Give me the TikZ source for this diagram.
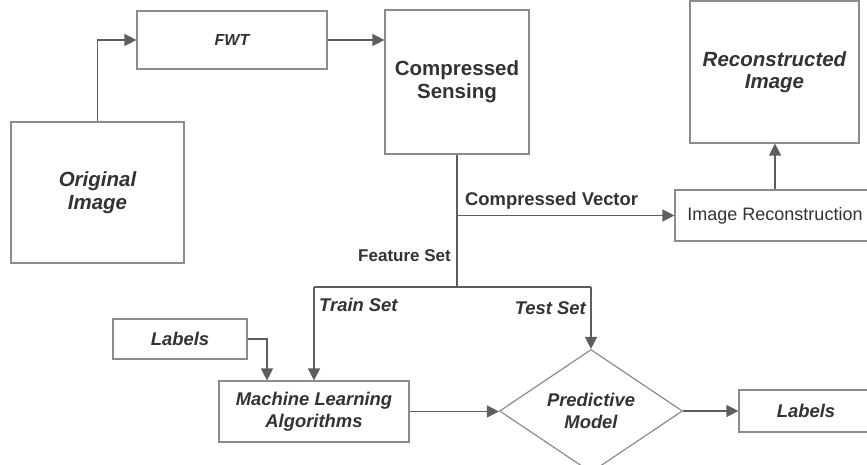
\documentclass[tikz,border=0pt]{standalone}
\usepackage{fontspec}
\setmainfont{Liberation Sans}
\usetikzlibrary{shapes.geometric,arrows.meta}
\definecolor{txt}{HTML}{333333}
\definecolor{conn}{HTML}{5E5E5E}
\definecolor{bord}{HTML}{8C8C8C}
\tikzset{
  box/.style={draw=bord,line width=1.2pt,rectangle,inner sep=0pt,align=center,text=txt},
  big/.style={font=\fontsize{20.5}{23}\selectfont\bfseries},
  mid/.style={font=\fontsize{18.4}{21.5}\selectfont\bfseries\itshape},
  arr/.style={draw=conn,line width=1.4pt,-{Triangle[length=12pt,width=12pt]}},
  ln/.style={draw=conn,line width=1.4pt},
  lbl/.style={inner sep=0pt,text=txt}
}
\begin{document}
\begin{tikzpicture}[x=1pt,y=-1pt]
\clip (0,0) rectangle (867,465);
\fill[white] (0,0) rectangle (867,465);
% boxes
\node[box,minimum width=173pt,minimum height=141pt,font=\fontsize{20.5}{23}\selectfont\bfseries\itshape] (orig) at (97.5,192.5) {Original\\Image};
\node[box,minimum width=190pt,minimum height=58pt,font=\fontsize{16}{18}\selectfont\bfseries\itshape] (fwt) at (232,40) {FWT};
\node[box,big,minimum width=144pt,minimum height=144pt] (cs) at (457,82) {Compressed\\Sensing};
\node[box,minimum width=169pt,minimum height=142pt,font=\fontsize{20.5}{22}\selectfont\bfseries\itshape] (rec) at (774.5,72) {Reconstructed\\Image};
\node[box,minimum width=200pt,minimum height=51pt,font=\fontsize{18}{21}\selectfont] (imgrec) at (775,215.5) {Image Reconstruction};
\node[box,mid,minimum width=134pt,minimum height=40pt] (lab1) at (180,339) {Labels};
\node[box,mid,minimum width=190pt,minimum height=61pt] (ml) at (314,411.5) {Machine Learning\\Algorithms};
\node[draw=bord,line width=1.2pt,diamond,inner sep=0pt,minimum width=183pt,minimum height=102pt,mid,text=txt,align=center] (diam) at (591,411) {Predictive\\Model};
\node[box,mid,minimum width=134pt,minimum height=42pt] (lab2) at (806,411) {Labels};
% coordinates
\coordinate (split) at (457,287);
\coordinate (cvpt) at (457,215.5);
% connectors
\draw[arr] (orig.north) |- (fwt.west);
\draw[arr] (fwt.east) -- (fwt.east -| cs.west);
\draw[ln] (cs.south) -- (split);
\draw[arr] (cvpt) -- (imgrec.west);
\draw[arr] (imgrec.north) -- (imgrec.north |- rec.south);
\draw[ln] (split) -- (split -| ml.north) -- (split -| diam.north);
\draw[arr] (split -| ml.north) -- (ml.north);
\draw[arr] (split -| diam.north) -- (diam.north);
\draw[arr] (lab1.east) -| ([xshift=-47pt]ml.north);
\draw[arr] (ml.east) -- (ml.east -| diam.west);
\draw[arr] (diam.east) -- (lab2.west);
% labels
\node[lbl,anchor=west,font=\fontsize{18.4}{21}\selectfont\bfseries] (cvl) at (465,201) {Compressed Vector};
\node[lbl,anchor=east,font=\fontsize{17}{20}\selectfont\bfseries] (fsl) at (451,256) {Feature Set};
\node[lbl,anchor=west,mid] (trl) at (319,305) {Train Set};
\node[lbl,anchor=east,mid] (tsl) at (586,308) {Test Set};
\end{tikzpicture}
\end{document}
